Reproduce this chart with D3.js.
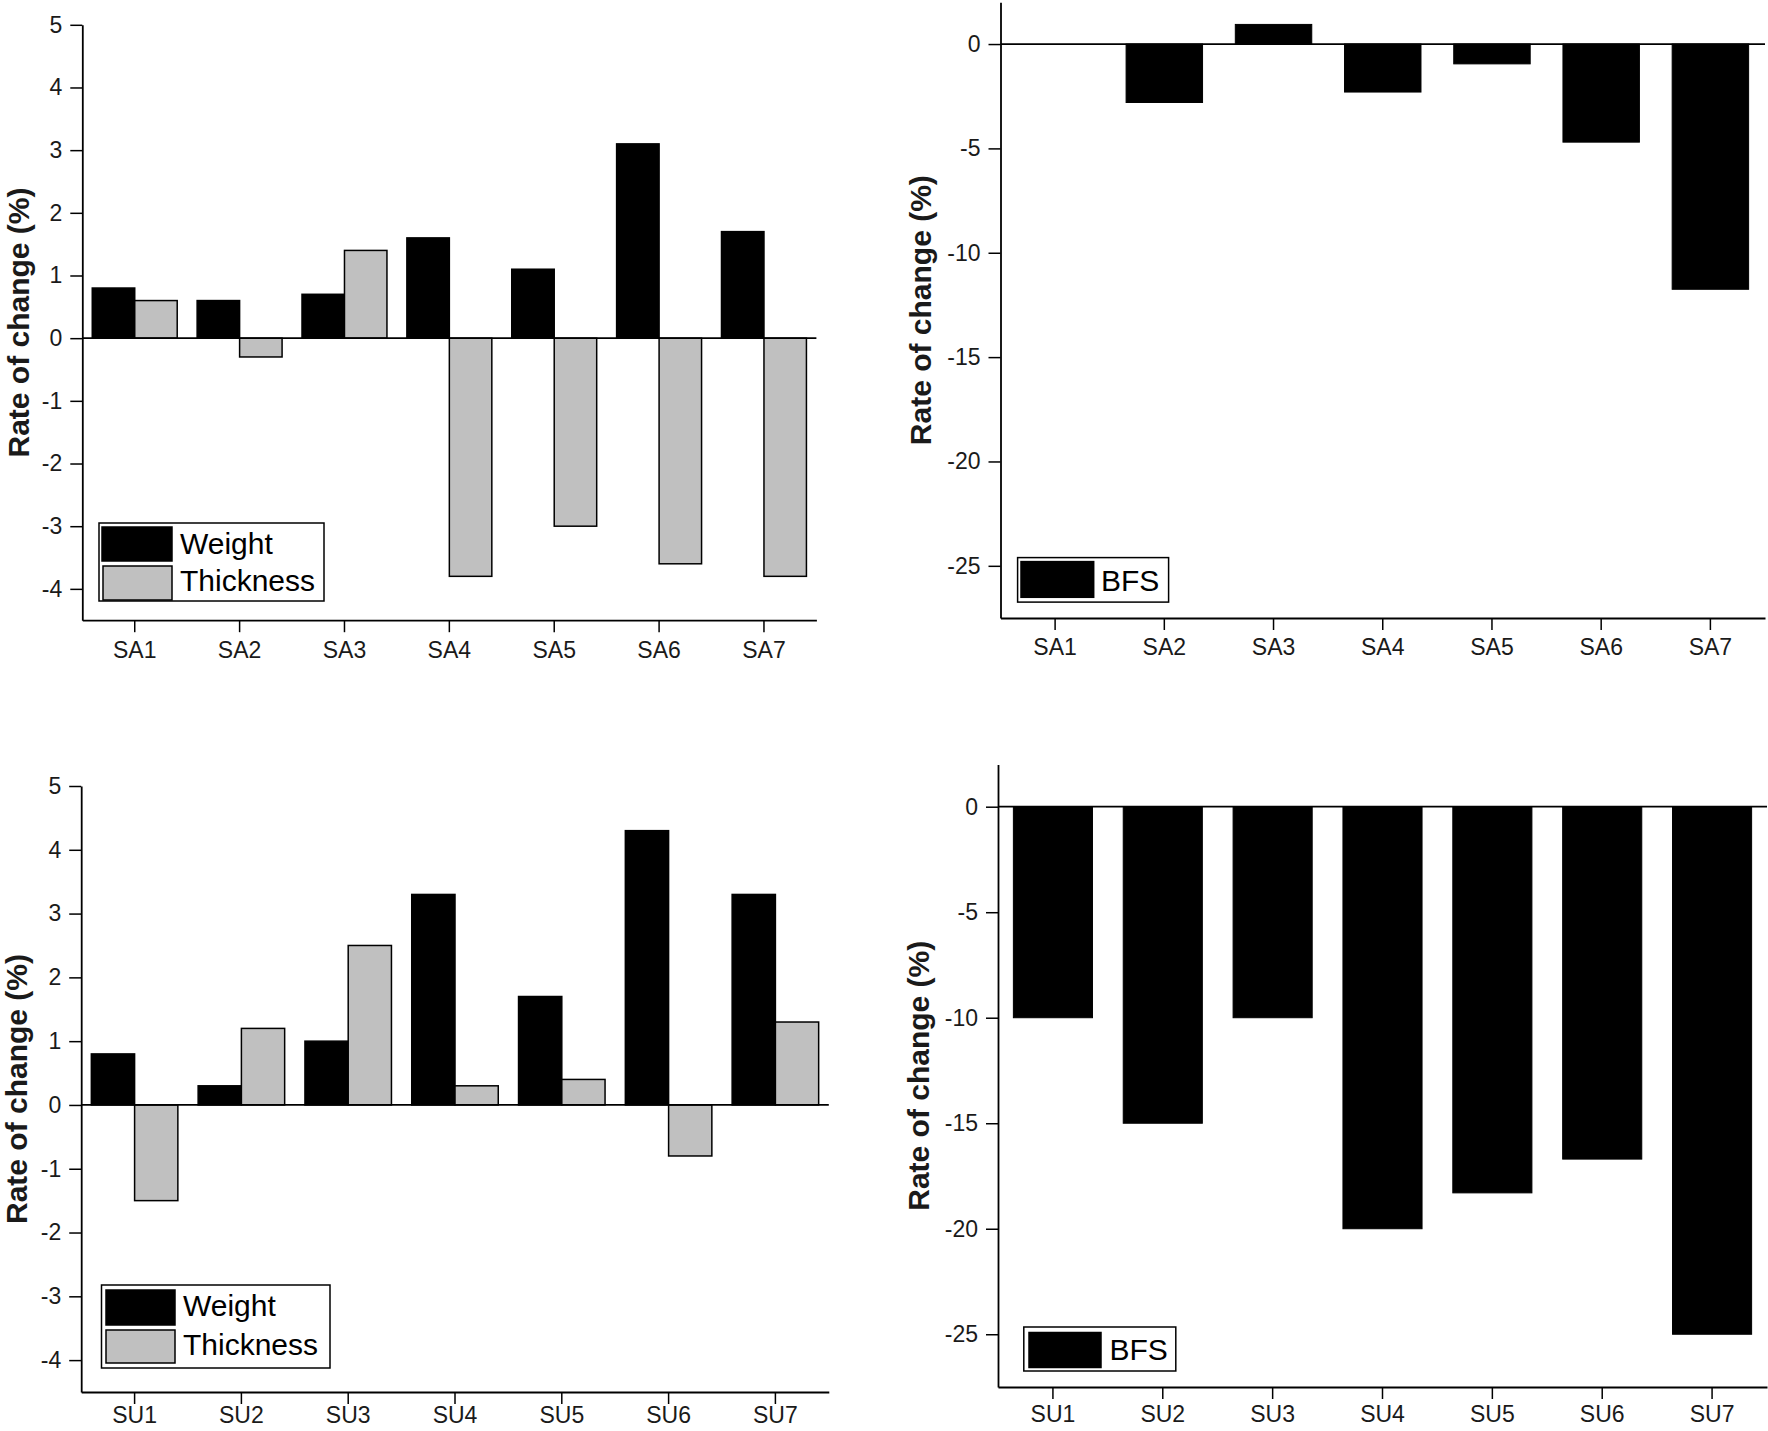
<!DOCTYPE html>
<html>
<head>
<meta charset="utf-8">
<script src="https://cdn.jsdelivr.net/npm/d3@7"></script>
<style>
  html, body { margin: 0; padding: 0; background: #fff; }
  svg { display: block; }
  text { font-family: "Liberation Sans", Arial, sans-serif; }
</style>
</head>
<body>
<svg id="chart" width="1768" height="1431"></svg>
<script>
// ---------------- DATA ----------------
const saCategories = ["SA1", "SA2", "SA3", "SA4", "SA5", "SA6", "SA7"];
const suCategories = ["SU1", "SU2", "SU3", "SU4", "SU5", "SU6", "SU7"];
const seriesNames = ["Weight", "Thickness"];

const saWeight    = [0.8, 0.6, 0.7, 1.6, 1.1, 3.1, 1.7];
const saThickness = [0.6, -0.3, 1.4, -3.8, -3.0, -3.6, -3.8];
const saBFS       = [0, -2.8, 0.94, -2.3, -0.95, -4.7, -11.75];

const suWeight    = [0.8, 0.3, 1.0, 3.3, 1.7, 4.3, 3.3];
const suThickness = [-1.5, 1.2, 2.5, 0.3, 0.4, -0.8, 1.3];
const suBFS       = [-10, -15, -10, -20, -18.3, -16.7, -25];

const smallTicks = [-4, -3, -2, -1, 0, 1, 2, 3, 4, 5];
const bfsTicks   = [-25, -20, -15, -10, -5, 0];
const yTitle = "Rate of change (%)";
const bfsLabel = "BFS";

// ---------------- DRAW ----------------
const svg = d3.select("#chart");
const seriesColor = d3.scaleOrdinal().domain(seriesNames).range(["#000000", "#c0c0c0"]);

function drawPanel(p) {
  const g = svg.append("g");
  const x = d3.scaleBand().domain(p.categories).range([p.left, p.right])
    .paddingInner(p.pad).paddingOuter(p.pad / 2);
  const y = d3.scaleLinear().domain(p.domain).range([p.bottom, p.top]);

  // bars
  if (p.series.length > 1) {
    const sub = d3.scaleBand().domain(seriesNames).range([0, x.bandwidth()]);
    p.series.forEach((vals, si) => {
      g.append("g").selectAll("rect").data(vals).join("rect")
        .attr("x", (d, i) => x(p.categories[i]) + sub(seriesNames[si]))
        .attr("width", sub.bandwidth())
        .attr("y", d => y(Math.max(0, d)))
        .attr("height", d => Math.abs(y(d) - y(0)))
        .attr("fill", seriesColor(seriesNames[si]))
        .attr("stroke", "#000").attr("stroke-width", 1.5);
    });
  } else {
    g.append("g").selectAll("rect").data(p.series[0]).join("rect")
      .attr("x", (d, i) => x(p.categories[i]))
      .attr("width", x.bandwidth())
      .attr("y", d => y(Math.max(0, d)))
      .attr("height", d => Math.abs(y(d) - y(0)))
      .attr("fill", "#000")
      .attr("stroke", "#000").attr("stroke-width", 1);
  }

  // zero line
  g.append("line")
    .attr("x1", p.left).attr("x2", p.right)
    .attr("y1", y(0)).attr("y2", y(0))
    .attr("stroke", "#000").attr("stroke-width", 1.8);

  // y axis
  const ya = g.append("g").attr("transform", `translate(${p.left},0)`)
    .call(d3.axisLeft(y).tickValues(p.ticks).tickFormat(d => String(d))
      .tickSize(12).tickSizeOuter(0).tickPadding(8));
  // x axis
  const xa = g.append("g").attr("transform", `translate(0,${p.bottom})`)
    .call(d3.axisBottom(x).tickSize(12).tickSizeOuter(0).tickPadding(p.xPad));

  [ya, xa].forEach(a => {
    a.select(".domain").attr("stroke", "#000").attr("stroke-width", 1.8);
    a.selectAll(".tick line").attr("stroke", "#000").attr("stroke-width", 1.5);
    a.selectAll(".tick text").attr("fill", "#1a1a1a")
      .style("font-size", "23px").style("font-family", "'Liberation Sans', Arial, sans-serif");
  });

  // y title
  g.append("text")
    .attr("transform", `translate(${p.titleX},${(p.top + p.bottom) / 2}) rotate(-90)`)
    .attr("text-anchor", "middle").attr("dy", "0.35em")
    .style("font-size", "30px").style("font-weight", "bold").attr("fill", "#1a1a1a")
    .text(yTitle);

  // legend
  const L = p.legend;
  g.append("rect").attr("x", L.box[0]).attr("y", L.box[1])
    .attr("width", L.box[2]).attr("height", L.box[3])
    .attr("fill", "#fff").attr("stroke", "#000").attr("stroke-width", 1.5);
  L.items.forEach(it => {
    g.append("rect").attr("x", it.sw[0]).attr("y", it.sw[1])
      .attr("width", it.sw[2]).attr("height", it.sw[3])
      .attr("fill", it.color).attr("stroke", "#000").attr("stroke-width", 1.5);
    g.append("text").attr("x", it.tx).attr("y", it.ty)
      .style("font-size", "30px").attr("fill", "#000").text(it.label);
  });
}

// Top-left: SA weight / thickness
drawPanel({
  categories: saCategories, series: [saWeight, saThickness], pad: 0.19,
  left: 82.3, right: 816.4, top: 24.8, bottom: 620.2, domain: [-4.5, 5],
  ticks: smallTicks, titleX: 18, xPad: 9,
  legend: {
    box: [99, 523, 225, 78],
    items: [
      { sw: [102, 527, 70, 34], color: seriesColor("Weight"), label: seriesNames[0], tx: 180, ty: 554 },
      { sw: [103, 566, 69, 34], color: seriesColor("Thickness"), label: seriesNames[1], tx: 180, ty: 591 }
    ]
  }
});

// Top-right: SA BFS
drawPanel({
  categories: saCategories, series: [saBFS], pad: 0.30,
  left: 1000.5, right: 1765, top: 2.3, bottom: 618, domain: [-27.5, 2],
  ticks: bfsTicks, titleX: 920, xPad: 9,
  legend: {
    box: [1017.6, 557.6, 151, 44.5],
    items: [
      { sw: [1021, 561.6, 72.7, 35.7], color: "#000", label: bfsLabel, tx: 1101, ty: 591 }
    ]
  }
});

// Bottom-left: SU weight / thickness
drawPanel({
  categories: suCategories, series: [suWeight, suThickness], pad: 0.19,
  left: 81.2, right: 828.8, top: 786, bottom: 1392, domain: [-4.5, 5],
  ticks: smallTicks, titleX: 16, xPad: 3,
  legend: {
    box: [101.5, 1285, 228.5, 83],
    items: [
      { sw: [106, 1290, 69, 35], color: seriesColor("Weight"), label: seriesNames[0], tx: 183, ty: 1316 },
      { sw: [106, 1330, 69, 33], color: seriesColor("Thickness"), label: seriesNames[1], tx: 183, ty: 1355 }
    ]
  }
});

// Bottom-right: SU BFS
drawPanel({
  categories: suCategories, series: [suBFS], pad: 0.28,
  left: 998, right: 1767, top: 764.5, bottom: 1387, domain: [-27.5, 2],
  ticks: bfsTicks, titleX: 918.5, xPad: 7,
  legend: {
    box: [1023.8, 1327, 152, 44],
    items: [
      { sw: [1029, 1332.5, 72, 35], color: "#000", label: bfsLabel, tx: 1109.5, ty: 1360 }
    ]
  }
});
</script>
</body>
</html>
